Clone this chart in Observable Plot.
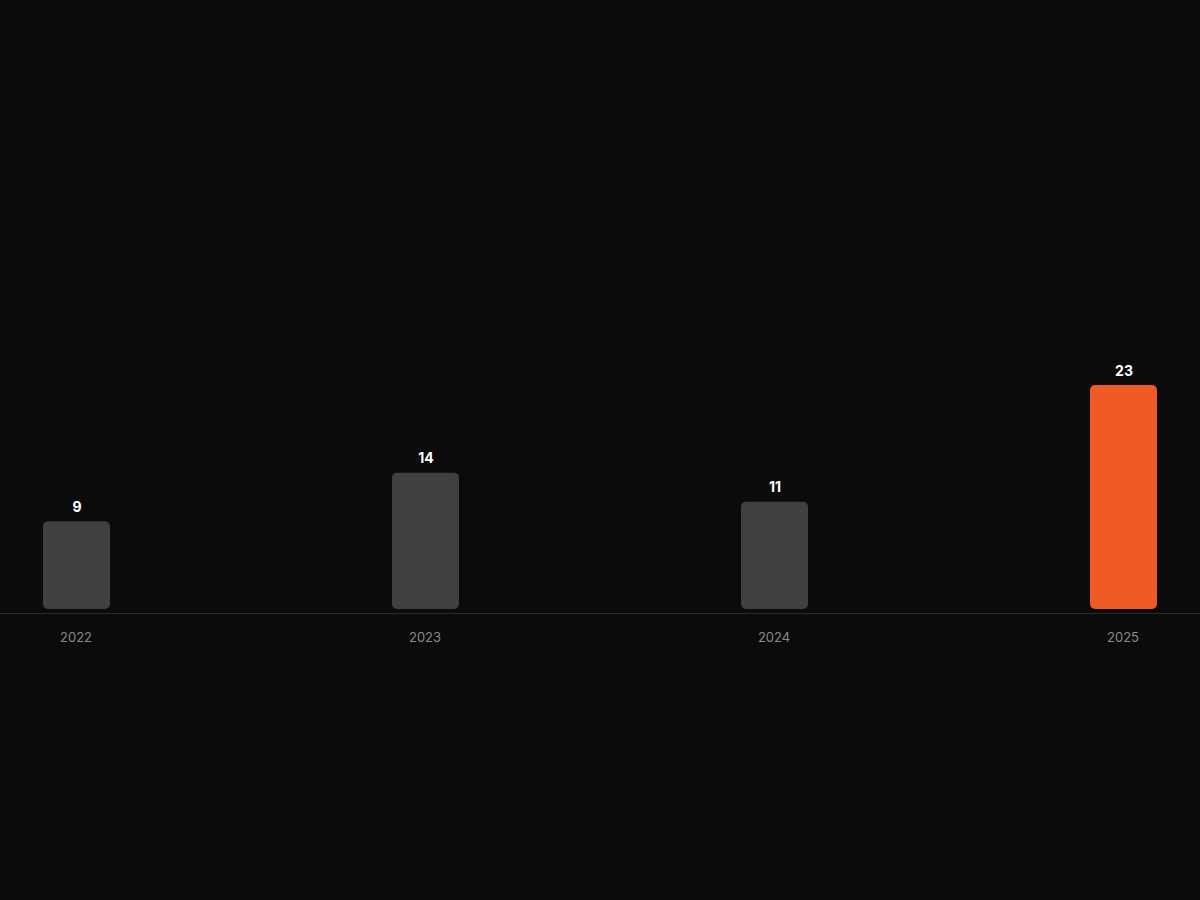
<!DOCTYPE html>
<html>
<head>
<meta charset="utf-8">
<script src="https://cdn.jsdelivr.net/npm/d3@7"></script>
<script src="https://cdn.jsdelivr.net/npm/@observablehq/plot@0.6"></script>
<style>
  html, body { margin: 0; padding: 0; background: #0b0b0b; }
  #chart svg { display: block; }
</style>
</head>
<body>
<div id="chart"></div>
<script>
const years = ["2022", "2023", "2024", "2025"];
const counts = [9, 14, 11, 23];
const highlightYear = "2025";

const data = years.map((year, i) => ({ year, count: counts[i], hi: year === highlightYear }));

const chart = Plot.plot({
  width: 1200,
  height: 900,
  marginLeft: 0,
  marginRight: 0,
  marginTop: 385,
  marginBottom: 291,
  style: { background: "#0b0b0b", fontFamily: "Inter, sans-serif" },
  x: { domain: years, paddingInner: 0.808, paddingOuter: 0.122, label: null },
  y: { domain: [0, 23], axis: null },
  marks: [
    Plot.ruleY([0], { stroke: "#2b2b2b", strokeWidth: 1, dy: 4 }),
    Plot.barY(data, { x: "year", y: "count", fill: d => d.hi ? "#f05a24" : "#404040", rx: 5 }),
    Plot.text(data, { x: "year", y: "count", text: d => String(d.count), dy: -10, lineAnchor: "bottom", fill: "#ffffff", fontSize: 14, fontWeight: 700 }),
    Plot.axisX({ tickSize: 0, tickPadding: 23, fontSize: 13, color: "#8a8a8a", dx: -1, label: null })
  ]
});
document.getElementById("chart").append(chart);
</script>
</body>
</html>
